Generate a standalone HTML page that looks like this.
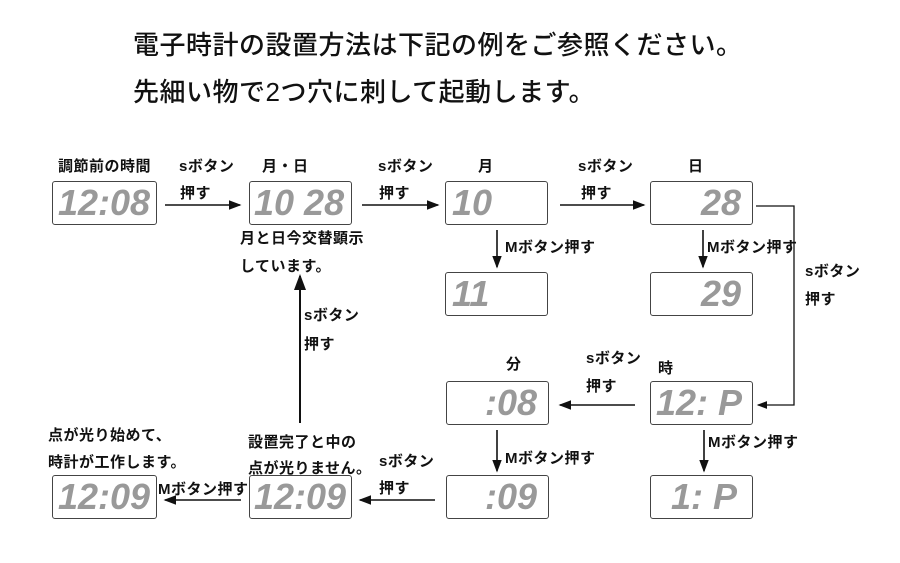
<!DOCTYPE html>
<html><head><meta charset="utf-8"><style>
html,body{margin:0;padding:0;}
body{width:900px;height:563px;position:relative;background:#fff;overflow:hidden;font-family:"Liberation Sans","Noto Sans CJK JP",sans-serif;}
.t{position:absolute;font-size:26px;font-weight:500;color:#111;white-space:nowrap;letter-spacing:0.5px;line-height:1}
.l{position:absolute;font-size:15px;font-weight:bold;color:#111;white-space:nowrap;line-height:1;letter-spacing:0.5px}
.b{position:absolute;width:102px;height:44px;border:1.5px solid #444;border-radius:3px;background:#fff;box-sizing:border-box;}
.d{position:absolute;font-family:"Liberation Sans",sans-serif;font-weight:bold;font-style:italic;font-size:36px;color:#999;line-height:42px;top:0;white-space:pre;letter-spacing:0px}
</style></head><body>
<div class="t" style="left:133px;top:32px">電子時計の設置方法は下記の例をご参照ください。</div>
<div class="t" style="left:133px;top:79px">先細い物で2つ穴に刺して起動します。</div>

<svg width="900" height="563" style="position:absolute;left:0;top:0">
<defs><marker id="a" markerWidth="8" markerHeight="6" refX="7" refY="3" orient="auto"><path d="M0,0 L8,3 L0,6z" fill="#111"/></marker></defs>
<g stroke="#111" stroke-width="1.6" fill="none">
<line x1="165" y1="205" x2="240" y2="205" marker-end="url(#a)"/>
<line x1="362" y1="205" x2="438" y2="205" marker-end="url(#a)"/>
<line x1="560" y1="205" x2="644" y2="205" marker-end="url(#a)"/>
<line x1="497" y1="230" x2="497" y2="267" marker-end="url(#a)"/>
<line x1="703" y1="230" x2="703" y2="267" marker-end="url(#a)"/>
<polyline points="756,206 794,206 794,405 758,405" marker-end="url(#a)" stroke-width="1.3"/>
<line x1="635" y1="405" x2="560" y2="405" marker-end="url(#a)"/>
<line x1="497" y1="430" x2="497" y2="471" marker-end="url(#a)"/>
<line x1="704" y1="430" x2="704" y2="471" marker-end="url(#a)"/>
<line x1="435" y1="500" x2="360" y2="500" marker-end="url(#a)"/>
<line x1="241" y1="500" x2="165" y2="500" marker-end="url(#a)"/>
<line x1="300" y1="423" x2="300" y2="276" marker-end="url(#a)" stroke-width="2"/>
</g></svg>

<div class="b" style="left:52px;top:181px;width:105px"><div class="d" style="left:5px">12:08</div></div>
<div class="b" style="left:249px;top:181px;width:103px"><div class="d" style="left:4px">10 28</div></div>
<div class="b" style="left:445px;top:181px;width:103px"><div class="d" style="left:6px">10</div></div>
<div class="b" style="left:650px;top:181px;width:103px"><div class="d" style="left:50px">28</div></div>
<div class="b" style="left:445px;top:272px;width:103px"><div class="d" style="left:6px">11</div></div>
<div class="b" style="left:650px;top:272px;width:103px"><div class="d" style="left:50px">29</div></div>
<div class="b" style="left:446px;top:381px;width:103px"><div class="d" style="left:38px">:08</div></div>
<div class="b" style="left:650px;top:381px;width:103px"><div class="d" style="left:5px">12: P</div></div>
<div class="b" style="left:446px;top:475px;width:103px"><div class="d" style="left:38px">:09</div></div>
<div class="b" style="left:650px;top:475px;width:103px"><div class="d" style="left:20px">1: P</div></div>
<div class="b" style="left:249px;top:475px;width:103px"><div class="d" style="left:4px">12:09</div></div>
<div class="b" style="left:52px;top:475px;width:105px"><div class="d" style="left:5px">12:09</div></div>

<div class="l" style="left:58px;top:159px">調節前の時間</div>
<div class="l" style="left:179px;top:159px">sボタン</div>
<div class="l" style="left:180px;top:186px">押す</div>
<div class="l" style="left:262px;top:159px">月・日</div>
<div class="l" style="left:378px;top:159px">sボタン</div>
<div class="l" style="left:379px;top:186px">押す</div>
<div class="l" style="left:478px;top:159px">月</div>
<div class="l" style="left:578px;top:159px">sボタン</div>
<div class="l" style="left:581px;top:186px">押す</div>
<div class="l" style="left:688px;top:159px">日</div>
<div class="l" style="left:240px;top:231px">月と日今交替顕示</div>
<div class="l" style="left:240px;top:259px">しています。</div>
<div class="l" style="left:505px;top:240px">Mボタン押す</div>
<div class="l" style="left:707px;top:240px">Mボタン押す</div>
<div class="l" style="left:805px;top:264px">sボタン</div>
<div class="l" style="left:805px;top:292px">押す</div>
<div class="l" style="left:304px;top:308px">sボタン</div>
<div class="l" style="left:304px;top:337px">押す</div>
<div class="l" style="left:506px;top:357px">分</div>
<div class="l" style="left:586px;top:351px">sボタン</div>
<div class="l" style="left:586px;top:379px">押す</div>
<div class="l" style="left:658px;top:361px">時</div>
<div class="l" style="left:708px;top:435px">Mボタン押す</div>
<div class="l" style="left:505px;top:451px">Mボタン押す</div>
<div class="l" style="left:48px;top:428px">点が光り始めて、</div>
<div class="l" style="left:48px;top:455px">時計が工作します。</div>
<div class="l" style="left:248px;top:435px">設置完了と中の</div>
<div class="l" style="left:248px;top:461px">点が光りません。</div>
<div class="l" style="left:379px;top:454px">sボタン</div>
<div class="l" style="left:379px;top:481px">押す</div>
<div class="l" style="left:158px;top:482px">Mボタン押す</div>
</body></html>
